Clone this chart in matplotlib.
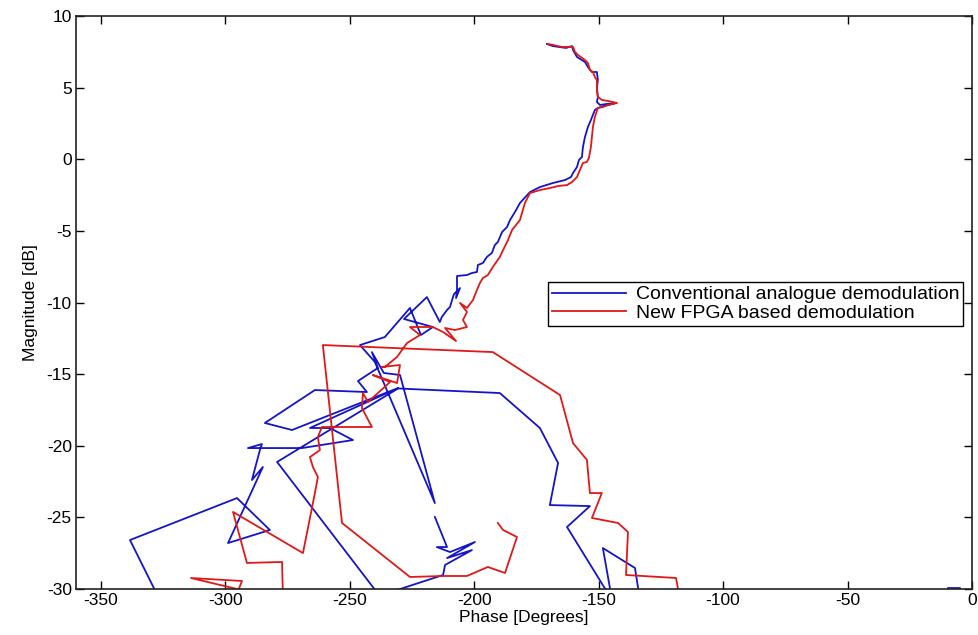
import numpy as np
import matplotlib
matplotlib.use("Agg")
import matplotlib.pyplot as plt

# Nichols-style traces: phase [deg], magnitude [dB]
# (points below -30 dB are where the trace leaves the plotted window)
conv_phase = [
    -170.8, -168.4, -163.1, -160.7, -160.3, -158.7, -155.5, -154.3, -152.7, -150.7,
    -150.3, -150.7, -150.3, -150.7, -149.5, -146.7, -143.0, -147.5, -150.3, -151.5,
    -153.1, -154.3, -155.5, -156.3, -156.7, -157.9, -158.7, -160.3, -161.1, -163.5,
    -168.4, -173.6, -177.6, -181.6,
    -183.6, -185.6, -186.8, -188.8, -190.5, -191.7, -192.9, -194.9, -196.5, -198.5,
    -198.9, -200.9, -202.9, -206.9, -206.9, -207.3, -205.7, -208.1, -208.9, -209.7,
    -210.9, -213.0, -213.8,
    -219.0, -228.2, -216.6, -221.4, -225.8, -235.9, -245.9,
    -239.9, -215.8, -229.8, -236.3, -241.1, -238.7, -246.7, -243.1,
    -264.0, -284.1, -273.2, -230.6, -266.0, -258.0, -248.7, -269.2, -290.9, -285.3,
    -286.1, -289.3, -284.9, -298.9, -282.1, -295.3, -338.3, -326.3, -236.7, -279.2,
    -230.6, -189.7, -173.6, -166.3, -169.6, -153.5, -162.7, -144.6, -148.3, -135.4,
    -133.4, -10.9, -9.7, -4.8, -3.6,
    np.nan,
    -215.8, -210.9, -215.0, -209.7, -199.7, -210.9, -200.9, -211.7, -212.5, -231.0,
    -233.8,
]
conv_mag = [
    8.05, 7.90, 7.77, 7.90, 7.63, 7.14, 6.79, 6.44, 6.09, 6.09,
    5.53, 4.97, 4.35, 4.00, 3.79, 3.86, 3.93, 3.72, 3.58, 3.44,
    2.74, 2.25, 1.55, 0.86, 0.16, -0.05, -0.54, -0.96, -1.24, -1.45,
    -1.66, -1.94, -2.29, -3.05,
    -3.68, -4.24, -4.73, -5.08, -5.78, -5.99, -6.54, -6.82, -7.24, -7.38,
    -7.87, -7.94, -8.08, -8.15, -9.13, -9.69, -8.99, -9.41, -9.83, -10.31,
    -10.52, -11.01, -11.36,
    -9.62, -11.15, -11.71, -12.27, -10.38, -12.41, -12.97,
    -14.15, -24.00, -15.06, -14.92, -13.46, -14.57, -15.48, -16.25,
    -16.11, -18.41, -18.90, -15.97, -18.76, -18.76, -19.60, -20.16, -20.16, -19.88,
    -20.30, -22.39, -21.48, -26.79, -25.88, -23.65, -26.58, -30.77, -30.77, -21.13,
    -16.00, -16.32, -18.76, -21.20, -24.14, -24.21, -25.67, -30.77, -27.14, -28.53,
    -30.77, -30.77, -29.93, -29.93, -30.77,
    np.nan,
    -24.97, -27.07, -27.07, -27.42, -26.72, -27.84, -27.28, -28.32, -29.02, -30.07,
    -30.77,
]

fpga_phase = [
    -170.4, -168.4, -164.7, -160.3, -159.5, -158.3, -155.5, -154.3, -153.5, -152.3,
    -151.5, -150.7, -150.7, -150.3, -148.7, -146.3, -142.6, -146.3, -148.3, -150.3,
    -151.5, -152.3, -152.7, -153.1, -153.9, -154.7, -156.3, -157.5, -158.7, -160.7,
    -162.7, -166.3, -169.6, -173.6, -177.6, -179.6, -180.8, -181.6,
    -184.8, -186.4, -188.4, -189.7, -192.5, -194.5, -196.5, -197.7, -198.9, -200.5,
    -202.9, -205.7, -202.9, -204.5, -202.9, -207.7, -211.7, -207.3, -212.5, -216.6,
    -225.8, -221.8, -227.0, -231.0, -235.9, -237.1, -229.8, -231.0, -240.7, -233.8,
    -242.7, -244.7, -245.1, -241.1, -251.9, -261.2, -262.8, -262.0, -266.0, -264.8,
    -262.8, -264.0, -268.8, -296.9, -291.3, -277.2, -276.8, -313.8, -293.3, -295.7,
    -273.2, -117.3, -118.9, -139.0, -138.2, -142.2, -152.7, -148.7, -153.5, -154.7,
    -160.3, -165.5, -192.5, -260.8, -253.1, -225.8, -212.5, -202.9, -194.5, -187.6,
    -182.8, -188.4, -190.5,
]
fpga_mag = [
    8.05, 7.98, 7.84, 7.84, 7.49, 7.28, 6.93, 6.72, 6.23, 6.09,
    5.74, 5.53, 4.83, 4.35, 4.14, 4.07, 3.93, 3.79, 3.65, 3.58,
    2.95, 2.25, 1.55, 0.86, 0.09, -0.19, -0.26, -0.75, -1.24, -1.59,
    -1.80, -1.87, -2.01, -2.15, -2.36, -3.05, -3.75, -4.24,
    -4.94, -5.64, -6.34, -6.82, -7.52, -8.08, -8.29, -8.64, -9.13, -9.83,
    -10.38, -10.03, -10.66, -11.22, -11.71, -11.92, -11.78, -12.69, -12.06, -11.71,
    -11.71, -12.27, -12.83, -13.80, -14.50, -14.50, -14.36, -15.62, -15.06, -15.55,
    -16.95, -16.32, -17.36, -18.69, -18.69, -18.69, -19.39, -20.30, -20.79, -21.48,
    -22.18, -23.30, -27.49, -24.62, -28.18, -28.11, -30.77, -29.23, -29.44, -30.49,
    -30.49, -30.77, -29.23, -29.02, -26.02, -25.39, -25.04, -23.30, -23.30, -20.99,
    -19.81, -16.46, -13.46, -12.97, -25.39, -29.16, -29.09, -29.09, -28.46, -28.88,
    -26.37, -25.88, -25.39,
]

xticks = [-350, -300, -250, -200, -150, -100, -50, 0]
yticks = [-30, -25, -20, -15, -10, -5, 0, 5, 10]

plt.rcParams["font.family"] = ["Liberation Sans", "DejaVu Sans"]
plt.rcParams["font.size"] = 12.5
plt.rcParams["axes.unicode_minus"] = False

fig = plt.figure(figsize=(9.79, 6.35), dpi=100)
ax = fig.add_axes([0.0776, 0.0724, 0.9152, 0.9024])

ax.plot(conv_phase, conv_mag, color="#1414c8", lw=1.3, label="Conventional analogue demodulation")
ax.plot(fpga_phase, fpga_mag, color="#e01818", lw=1.3, label="New FPGA based demodulation")

ax.set_xlim(-360, 0); ax.set_ylim(-30, 10)
ax.set_xticks(xticks); ax.set_yticks(yticks)
ax.tick_params(direction="in", top=True, right=True, length=6, width=1, pad=3)
for s in ax.spines.values():
    s.set_linewidth(1.2); s.set_color("#222222")
ax.set_xlabel("Phase [Degrees]", labelpad=1)
ax.set_ylabel("Magnitude [dB]", labelpad=6)

leg = ax.legend(loc="upper right", bbox_to_anchor=(0.99, 0.536), fancybox=False,
                framealpha=1, edgecolor="black", fontsize=14, handlelength=3.8,
                borderpad=0.2, labelspacing=0.05, handletextpad=0.5, borderaxespad=0)
leg.get_frame().set_linewidth(1.0)

fig.savefig("out.png", dpi=100)
